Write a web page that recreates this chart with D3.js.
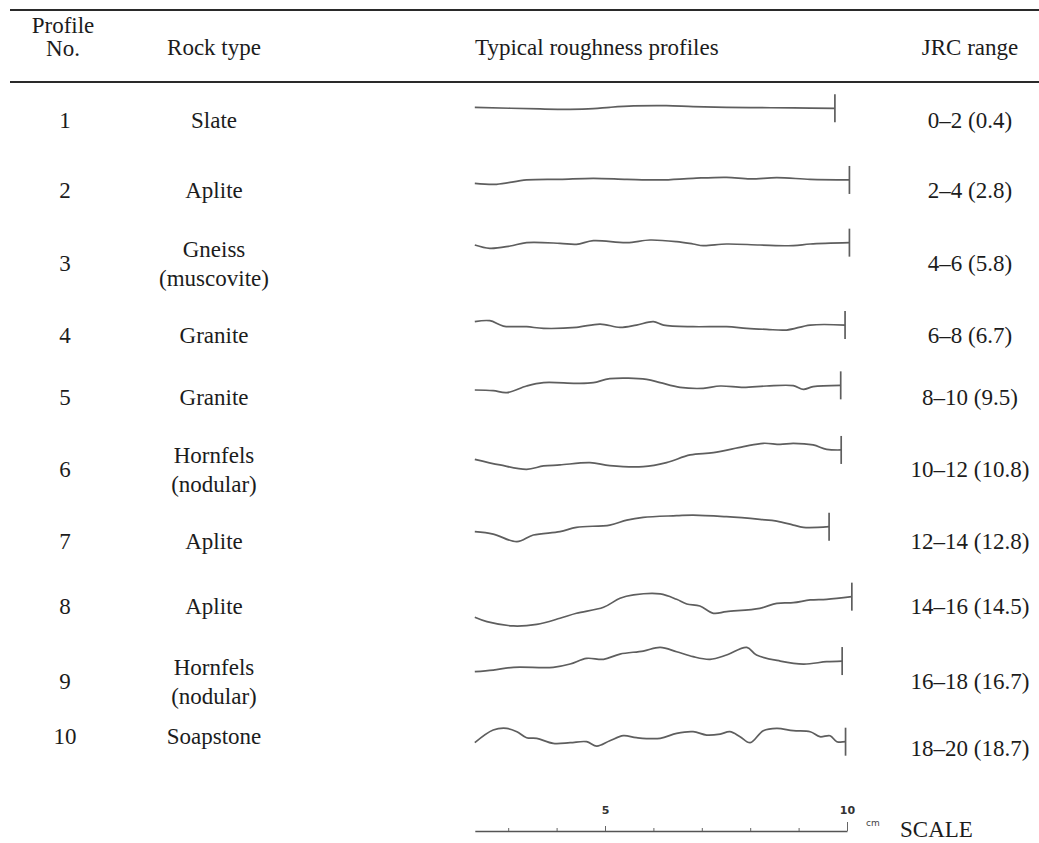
<!DOCTYPE html>
<html>
<head>
<meta charset="utf-8">
<script src="https://cdn.jsdelivr.net/npm/d3@7"></script>
<style>
  body { margin: 0; background: #fff; }
</style>
</head>
<body>
<svg id="chart" width="1039" height="843"></svg>
<script>
const width = 1039;
const height = 843;
const serif = "'Liberation Serif', 'DejaVu Serif', 'Times New Roman', serif";

// Table content
const headers = ["Rock type", "Typical roughness profiles", "JRC range"];
const profileNo = ["1", "2", "3", "4", "5", "6", "7", "8", "9", "10"];
const rockType = [
    ["Slate"], ["Aplite"], ["Gneiss", "(muscovite)"], ["Granite"], ["Granite"],
    ["Hornfels", "(nodular)"], ["Aplite"], ["Aplite"], ["Hornfels", "(nodular)"], ["Soapstone"]
];
const jrcRange = [
    "0–2 (0.4)", "2–4 (2.8)", "4–6 (5.8)", "6–8 (6.7)", "8–10 (9.5)",
    "10–12 (10.8)", "12–14 (12.8)", "14–16 (14.5)", "16–18 (16.7)", "18–20 (18.7)"
];

// Roughness traces: [distance along scale (mm), relief (mm)]
const profiles = [
    [[23.1, 0], [36.6, -0.33], [42.8, -0.4], [47.6, -0.27], [51.0, 0], [55.9, 0.27], [62.7, 0.33],
     [68.2, 0.13], [75.1, 0], [82.0, -0.07], [88.9, -0.13], [97.5, -0.2]],
    [[23.1, 0], [27.6, -0.2], [33.8, 0.67], [40.7, 0.8], [47.6, 1.0], [54.5, 0.8], [61.4, 0.67],
     [68.2, 1.0], [75.1, 1.2], [80.0, 0.87], [85.5, 1.13], [92.4, 0.8], [100.5, 0.67]],
    [[23.1, 0], [26.2, -0.67], [30.4, -0.2], [33.8, 0.47], [40.7, 0.33], [44.1, 0.13], [47.6, 0.87],
     [54.5, 0.47], [59.3, 1.0], [64.8, 0.67], [68.2, 0.2], [70.3, -0.13], [75.1, 0.2], [82.0, 0],
     [88.9, -0.13], [92.4, 0.2], [100.5, 0.47]],
    [[23.1, 0], [26.2, 0.2], [29.0, -0.87], [33.8, -1.0], [37.3, -1.33], [44.1, -1.13], [49.0, -0.47],
     [53.1, -1.13], [56.5, -0.67], [60.0, 0], [62.1, -0.67], [68.2, -1.0], [75.1, -1.0], [79.3, -1.33],
     [83.4, -1.53], [87.5, -1.67], [92.4, -0.67], [99.6, -0.67]],
    [[23.1, 0], [26.9, -0.13], [29.7, -0.53], [33.8, 0.8], [37.3, 1.47], [44.1, 1.33], [47.6, 1.47],
     [51.0, 2.27], [58.6, 2.13], [61.4, 1.47], [65.5, 0.53], [70.3, 0.33], [73.8, 0.8], [78.6, 0.53],
     [83.4, 0.8], [88.9, 0.87], [91.0, 0.13], [93.0, 0.67], [98.7, 0.93]],
    [[23.1, 0], [28.3, -1.13], [33.8, -2.0], [37.3, -1.33], [40.7, -1.13], [46.9, -0.67], [51.0, -1.27],
     [57.9, -1.47], [62.7, -0.67], [67.6, 0.87], [72.4, 1.33], [78.6, 2.53], [82.7, 3.2], [86.2, 3.0],
     [88.9, 3.2], [93.0, 2.87], [95.8, 2.0], [98.8, 1.87]],
    [[23.1, 0], [26.9, -0.47], [31.8, -2.0], [35.2, -0.67], [40.7, 0], [44.1, 0.87], [51.0, 1.33],
     [54.5, 2.33], [57.9, 2.87], [64.8, 3.2], [68.2, 3.33], [75.1, 3.0], [82.0, 2.47], [85.5, 2.13],
     [88.9, 1.33], [91.0, 0.87], [96.3, 1.0]],
    [[23.1, 0], [25.6, -0.87], [31.1, -1.73], [35.9, -1.4], [40.7, -0.2], [44.1, 0.8], [49.7, 2.0],
     [53.1, 3.8], [55.9, 4.47], [61.4, 4.67], [64.8, 3.6], [66.9, 2.67], [69.6, 2.27], [72.4, 0.8],
     [75.1, 1.13], [82.0, 1.8], [85.5, 2.8], [88.9, 2.93], [92.4, 3.47], [95.8, 3.6], [101.0, 4.13]],
    [[23.1, 0], [26.9, 0.33], [31.1, 0.87], [39.3, 0.87], [42.8, 1.53], [46.2, 2.67], [49.7, 2.47],
     [53.1, 3.53], [57.9, 4.13], [61.4, 4.87], [64.8, 4.0], [68.2, 3.0], [71.7, 2.47], [75.1, 3.33],
     [79.3, 4.87], [81.3, 3.33], [86.2, 2.13], [91.0, 1.53], [95.8, 2.0], [99.0, 2.13]],
    [[23.1, 0], [26.9, 2.53], [29.7, 2.87], [31.8, 2.2], [33.8, 1.0], [35.9, 0.87], [39.3, -0.13],
     [42.8, 0], [46.2, 0.2], [48.3, -0.67], [51.0, 0.4], [53.8, 1.4], [56.5, 1.0], [61.4, 0.87],
     [64.8, 1.87], [68.2, 2.2], [71.0, 1.53], [73.8, 1.73], [75.8, 2.2], [77.9, 1.2], [80.0, 0],
     [82.7, 2.4], [85.5, 2.87], [88.9, 2.4], [92.4, 2.2], [94.4, 1.2], [96.5, 1.4], [97.9, 0.2], [99.7, 0.2]]
];
// vertical datum of each trace relative to its row (mm)
const datum = [2.44, 1.34, 3.6, 2.66, 1.4, 1.94, 1.86, -2.26, 1.86, -1.34];

// Scale bar
const scaleStart = 23.1;
const scaleTicks = [30, 40, 50, 60, 70, 80, 90, 100];
const scaleLabels = { 50: "5", 100: "10" };

// Layout
const rowY = [119.5, 190, 263, 335, 397, 469, 541, 606, 681, 736];
const jrcY = [119.5, 190, 263, 335, 397, 469, 541, 606, 681, 748];
const colNo = 65, colRock = 214, colJrc = 970, colProfile = 475;
const fontSize = 23;
const lineGap = 29;

const svg = d3.select("#chart")
    .attr("font-family", serif)
    .attr("font-size", fontSize);

const xMM = d3.scaleLinear().domain([0, 100]).range([363, 847]);
const yRelief = d3.scaleLinear().domain([0, 1]).range([0, -5]);

function label(g, x, y, txt, anchor) {
    return g.append("text")
        .attr("x", x).attr("y", y).attr("dy", "0.35em")
        .attr("text-anchor", anchor || "middle")
        .attr("font-family", serif)
        .attr("fill", "#1c1c1c")
        .text(txt);
}

// rules
svg.selectAll("line.rule")
    .data([10, 82])
    .join("line")
    .attr("class", "rule")
    .attr("x1", 10).attr("x2", width)
    .attr("y1", d => d).attr("y2", d => d)
    .attr("stroke", "#2a2a2a")
    .attr("stroke-width", 2);

// header
const head = svg.append("g");
label(head, 63, 25, "Profile");
label(head, 63, 48, "No.");
label(head, colRock, 47, headers[0]);
label(head, colProfile, 47, headers[1], "start");
label(head, colJrc, 47, headers[2]);

// body rows
const body = svg.append("g");
profileNo.forEach((n, i) => {
    label(body, colNo, rowY[i], n);
    const lines = rockType[i];
    lines.forEach((t, k) => {
        label(body, colRock, rowY[i] + (k - (lines.length - 1) / 2) * lineGap, t);
    });
    label(body, colJrc, jrcY[i], jrcRange[i]);
});

// traces
const line = d3.line()
    .x(d => xMM(d[0]))
    .y(d => d[1])
    .curve(d3.curveCatmullRom.alpha(0.5));

const traces = svg.append("g")
    .attr("fill", "none")
    .attr("stroke", "#5e5e5e")
    .attr("stroke-width", 1.7)
    .attr("stroke-linejoin", "round");

profiles.forEach((p, i) => {
    const pts = p.map(([d, r]) => [d, rowY[i] + yRelief(datum[i] + r)]);
    traces.append("path").attr("d", line(pts));
    const end = pts[pts.length - 1];
    traces.append("line")
        .attr("x1", xMM(end[0])).attr("x2", xMM(end[0]))
        .attr("y1", end[1] + yRelief(2.8)).attr("y2", end[1] - yRelief(2.8));
});

// scale bar
const barY = 831;
const barScale = xMM.copy().domain([scaleStart, 100]).range([xMM(scaleStart), xMM(100)]);
const bar = svg.append("g")
    .attr("transform", `translate(0,${barY})`)
    .call(d3.axisTop(barScale)
        .tickValues(scaleTicks)
        .tickSize(3)
        .tickSizeOuter(0)
        .tickPadding(14)
        .tickFormat(d => scaleLabels[d] || ""));

bar.select(".domain").attr("stroke", "#555").attr("stroke-width", 1.4);
bar.selectAll(".tick line").attr("stroke", "#666")
    .attr("y2", d => d === 100 ? -9 : d === 50 ? -5 : -3);
bar.selectAll(".tick text")
    .attr("font-family", "'DejaVu Sans', sans-serif")
    .attr("font-size", 11)
    .attr("font-weight", "bold")
    .attr("fill", "#333");

svg.append("text")
    .attr("x", 866).attr("y", 826)
    .attr("font-family", "'DejaVu Sans', sans-serif")
    .attr("font-size", 9)
    .attr("fill", "#444")
    .text("cm");

svg.append("text")
    .attr("x", 900).attr("y", 837)
    .attr("font-family", serif)
    .attr("fill", "#1c1c1c")
    .text("SCALE");
</script>
</body>
</html>
